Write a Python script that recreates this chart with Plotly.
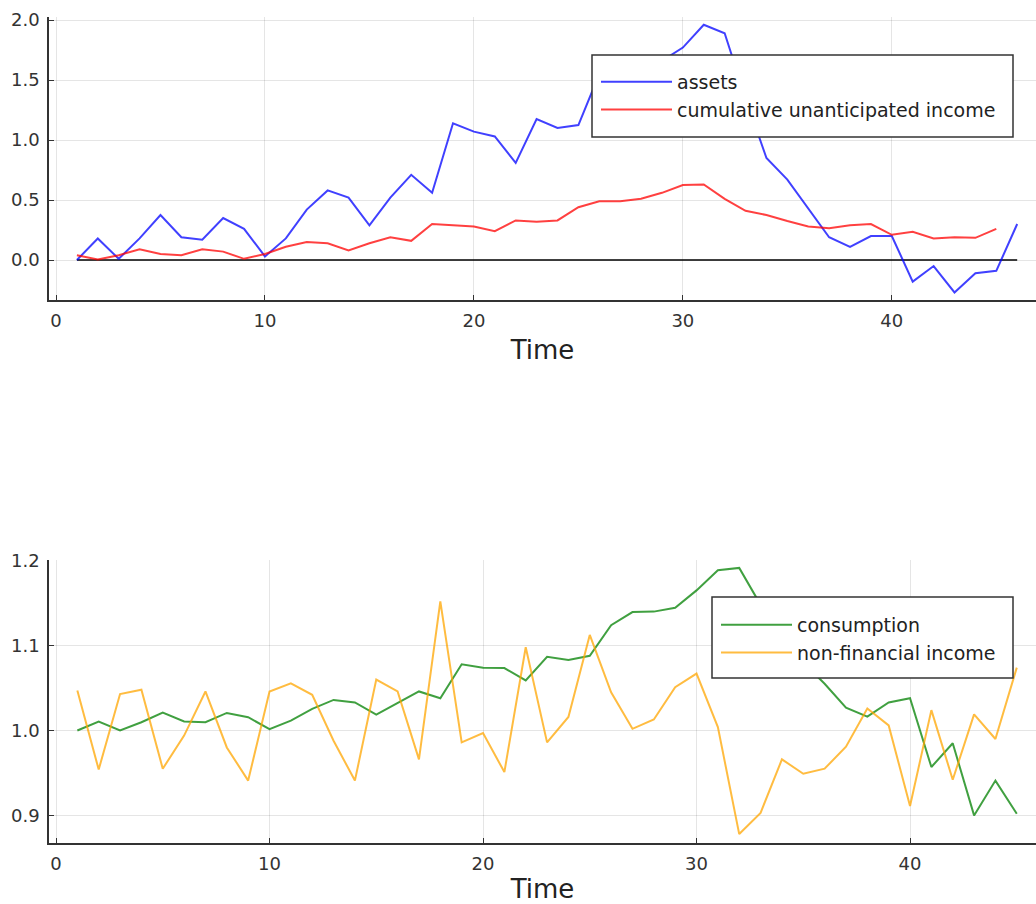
import plotly.graph_objects as go

# ---- data ----
t_assets = list(range(1, 47))
assets = [0.0, 0.18, 0.01, 0.18, 0.375, 0.19, 0.17, 0.35, 0.26, 0.03,
          0.18, 0.42, 0.58, 0.52, 0.29, 0.52, 0.71, 0.56, 1.14, 1.07,
          1.03, 0.81, 1.175, 1.10, 1.125, 1.55, 1.5, 1.6, 1.66, 1.77,
          1.96, 1.89, 1.35, 0.85, 0.67, 0.43, 0.19, 0.11, 0.2, 0.2,
          -0.18, -0.05, -0.27, -0.11, -0.09, 0.30]

t_cum = list(range(1, 46))
cum_income = [0.04, 0.005, 0.04, 0.09, 0.05, 0.04, 0.09, 0.07, 0.01, 0.05,
              0.11, 0.15, 0.14, 0.08, 0.14, 0.19, 0.16, 0.30, 0.29, 0.28,
              0.24, 0.33, 0.32, 0.33, 0.44, 0.49, 0.49, 0.51, 0.56, 0.625,
              0.63, 0.51, 0.41, 0.375, 0.325, 0.28, 0.265, 0.29, 0.30, 0.21,
              0.235, 0.18, 0.19, 0.185, 0.26]

t_zero = list(range(1, 47))
zero_line = [0.0] * 46

t_bottom = list(range(1, 46))
consumption = [1.0, 1.0106, 1.0, 1.0097, 1.021, 1.0106, 1.0098, 1.0207, 1.0156, 1.0016,
               1.0117, 1.0254, 1.036, 1.033, 1.0188, 1.0324, 1.046, 1.038, 1.078, 1.074,
               1.0735, 1.059, 1.0867, 1.083, 1.088, 1.124, 1.1395, 1.14, 1.1446, 1.165,
               1.1887, 1.1915, 1.148, 1.115, 1.08, 1.055, 1.027, 1.0164, 1.033, 1.038,
               0.957, 0.985, 0.90, 0.941, 0.902]
nonfin_income = [1.047, 0.954, 1.043, 1.048, 0.955, 0.994, 1.046, 0.98, 0.941, 1.046,
                 1.0555, 1.042, 0.988, 0.941, 1.06, 1.046, 0.966, 1.152, 0.986, 0.997,
                 0.951, 1.098, 0.986, 1.016, 1.1125, 1.045, 1.002, 1.013, 1.051, 1.067,
                 1.004, 0.878, 0.903, 0.966, 0.949, 0.955, 0.981, 1.026, 1.006, 0.911,
                 1.024, 0.942, 1.019, 0.99, 1.074]

top_yticks = [0.0, 0.5, 1.0, 1.5, 2.0]
bot_yticks = [0.9, 1.0, 1.1, 1.2]
xticks = [0, 10, 20, 30, 40]

FONT = "DejaVu Sans"
fig = go.Figure()

fig.add_trace(go.Scatter(x=t_zero, y=zero_line, mode="lines", line=dict(color="black", width=1.6),
                         showlegend=False, hoverinfo="skip", xaxis="x", yaxis="y"))
fig.add_trace(go.Scatter(x=t_assets, y=assets, mode="lines", name="assets",
                         line=dict(color="rgba(0,0,255,0.75)", width=2), xaxis="x", yaxis="y",
                         legend="legend"))
fig.add_trace(go.Scatter(x=t_cum, y=cum_income, mode="lines", name="cumulative unanticipated income",
                         line=dict(color="rgba(255,0,0,0.75)", width=2), xaxis="x", yaxis="y",
                         legend="legend"))
fig.add_trace(go.Scatter(x=t_bottom, y=consumption, mode="lines", name="consumption",
                         line=dict(color="rgba(0,128,0,0.75)", width=2), xaxis="x2", yaxis="y2",
                         legend="legend2"))
fig.add_trace(go.Scatter(x=t_bottom, y=nonfin_income, mode="lines", name="non-financial income",
                         line=dict(color="rgba(255,165,0,0.75)", width=2), xaxis="x2", yaxis="y2",
                         legend="legend2"))

W, H = 1036, 904
left = 49 / W

axis_common = dict(showline=True, linecolor="#333333", linewidth=1.5, ticks="inside", ticklen=5,
                   tickcolor="#333333", showgrid=True, gridcolor="rgba(0,0,0,0.1)", gridwidth=1,
                   zeroline=False, ticklabelstandoff=4, automargin=False,
                   tickfont=dict(family=FONT, size=18, color="#333333"))

title_font = dict(family=FONT, size=26, color="#222222")

legend_common = dict(xanchor="left", yanchor="top", borderwidth=0, bgcolor="rgba(0,0,0,0)",
                     font=dict(family=FONT, size=19, color="#222222"), tracegroupgap=0,
                     itemwidth=71)

fig.update_layout(
    width=W, height=H,
    margin=dict(l=0, r=0, t=0, b=0, pad=0, autoexpand=False),
    paper_bgcolor="white", plot_bgcolor="white",
    font=dict(family=FONT, color="#222222"),
    xaxis=dict(domain=[left, 1.0], range=[-0.335, 46.9], tickvals=xticks, anchor="y",
               title=dict(text="Time", font=title_font, standoff=10), **axis_common),
    yaxis=dict(domain=[(H - 300) / H, (H - 17) / H], range=[-0.333, 2.025], tickvals=top_yticks,
               tickformat=".1f", anchor="x", **axis_common),
    xaxis2=dict(domain=[left, 1.0], range=[-0.328, 45.9], tickvals=xticks, anchor="y2",
                title=dict(text="Time", font=title_font, standoff=10), **axis_common),
    yaxis2=dict(domain=[(H - 843) / H, (H - 560) / H], range=[0.8675, 1.2008], tickvals=bot_yticks,
                tickformat=".1f", anchor="x2", **axis_common),
    legend=dict(x=596 / W, y=1 - 63 / H, **legend_common),
    legend2=dict(x=716 / W, y=1 - 606 / H, **legend_common),
    shapes=[
        dict(type="rect", xref="paper", yref="paper", layer="above",
             x0=592 / W, x1=1013 / W, y0=1 - 137 / H, y1=1 - 55 / H,
             line=dict(color="#333333", width=1.5), fillcolor="white"),
        dict(type="rect", xref="paper", yref="paper", layer="above",
             x0=712 / W, x1=1013 / W, y0=1 - 678 / H, y1=1 - 597 / H,
             line=dict(color="#333333", width=1.5), fillcolor="white"),
    ],
)

fig.write_html("out.html")
